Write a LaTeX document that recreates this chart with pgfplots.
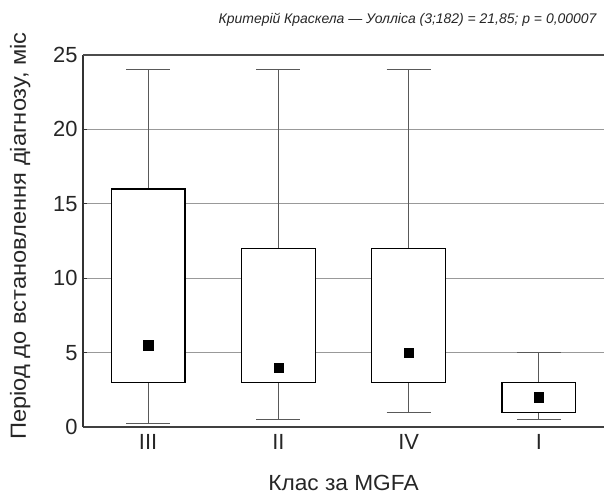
\documentclass[border=0pt]{standalone}
\usepackage{fontspec}
\setmainfont{Liberation Sans}
\newfontfamily\ylabfont[FakeStretch=1.08]{Liberation Sans}
\newfontfamily\xlabfont[FakeStretch=1.035]{Liberation Sans}
\usepackage{pgfplots}
\pgfplotsset{compat=1.18}
\usepgfplotslibrary{statistics}
\begin{document}
\begin{tikzpicture}
\begin{axis}[
  scale only axis, width=521bp, height=372bp,
  xmin=-0.5, xmax=3.5, ymin=0, ymax=25,
  axis x line*=bottom, axis y line*=left,
  x axis line style={-, black!75, line width=1.4bp},
  y axis line style={-, black!80, line width=1.1bp},
  ytick={0,5,...,25},
  ymajorgrids, grid style={black!40, line width=0.9bp},
  xtick={0,1,2,3}, xticklabels={III,II,IV,I},
  xtick style={draw=none},
  ytick style={black!80, line width=1bp},
  tick align=inside, major tick length=4bp,
  tick label style={font=\fontsize{22}{26}\selectfont, text=black!85},
  /pgf/number format/assume math mode=true,
  yticklabel style={xshift=-2bp},
  xticklabel style={yshift=-4bp},
  clip=false,
  boxplot/draw direction=y,
  boxplot/every box/.style={draw=black, fill=white, line width=1.2bp},
  boxplot/every whisker/.style={draw=black!65, line width=1.2bp},
  boxplot/every median/.style={draw=none},
]
\addplot[boxplot prepared={draw position=0, lower whisker=0.25, lower quartile=3, median=5.5, upper quartile=16, upper whisker=24, box extend=0.565, whisker extend=0.336}] coordinates {};
\addplot[boxplot prepared={draw position=1, lower whisker=0.5, lower quartile=3, median=4, upper quartile=12, upper whisker=24, box extend=0.565, whisker extend=0.336}] coordinates {};
\addplot[boxplot prepared={draw position=2, lower whisker=1, lower quartile=3, median=5, upper quartile=12, upper whisker=24, box extend=0.565, whisker extend=0.336}] coordinates {};
\addplot[boxplot prepared={draw position=3, lower whisker=0.5, lower quartile=1, median=2, upper quartile=3, upper whisker=5, box extend=0.565, whisker extend=0.336}] coordinates {};
\addplot[only marks, mark=square*, mark size=4.6bp, black] coordinates {(0,5.5) (1,4) (2,5) (3,2)};
\draw[black!70, line width=1.4bp] (rel axis cs:0,1) -- (rel axis cs:1,1);
\coordinate (SW) at (rel axis cs:0,0);
\coordinate (NE) at (rel axis cs:1,1);
\coordinate (MID) at (rel axis cs:0.5,0.5);
\end{axis}
\node[anchor=base east, font=\itshape\fontsize{14}{17}\selectfont, text=black!85] at ([shift={(-4bp,31bp)}]NE) {Критерій Краскела — Уолліса (3;182) = 21,85; р = 0,00007};
\node[anchor=base, font=\xlabfont\fontsize{22}{26}\selectfont, text=black!85] at ([shift={(0,-63bp)}]SW -| MID) {Клас за MGFA};
\node[anchor=base, rotate=90, font=\ylabfont\fontsize{22}{26}\selectfont, text=black!85] at ([shift={(-57bp,5bp)}]SW |- MID) {Період до встановлення діагнозу, міс};
\pgfresetboundingbox
\useasboundingbox ([shift={(-83bp,-73bp)}]SW) rectangle ([shift={(0,55bp)}]NE);
\end{tikzpicture}
\end{document}
